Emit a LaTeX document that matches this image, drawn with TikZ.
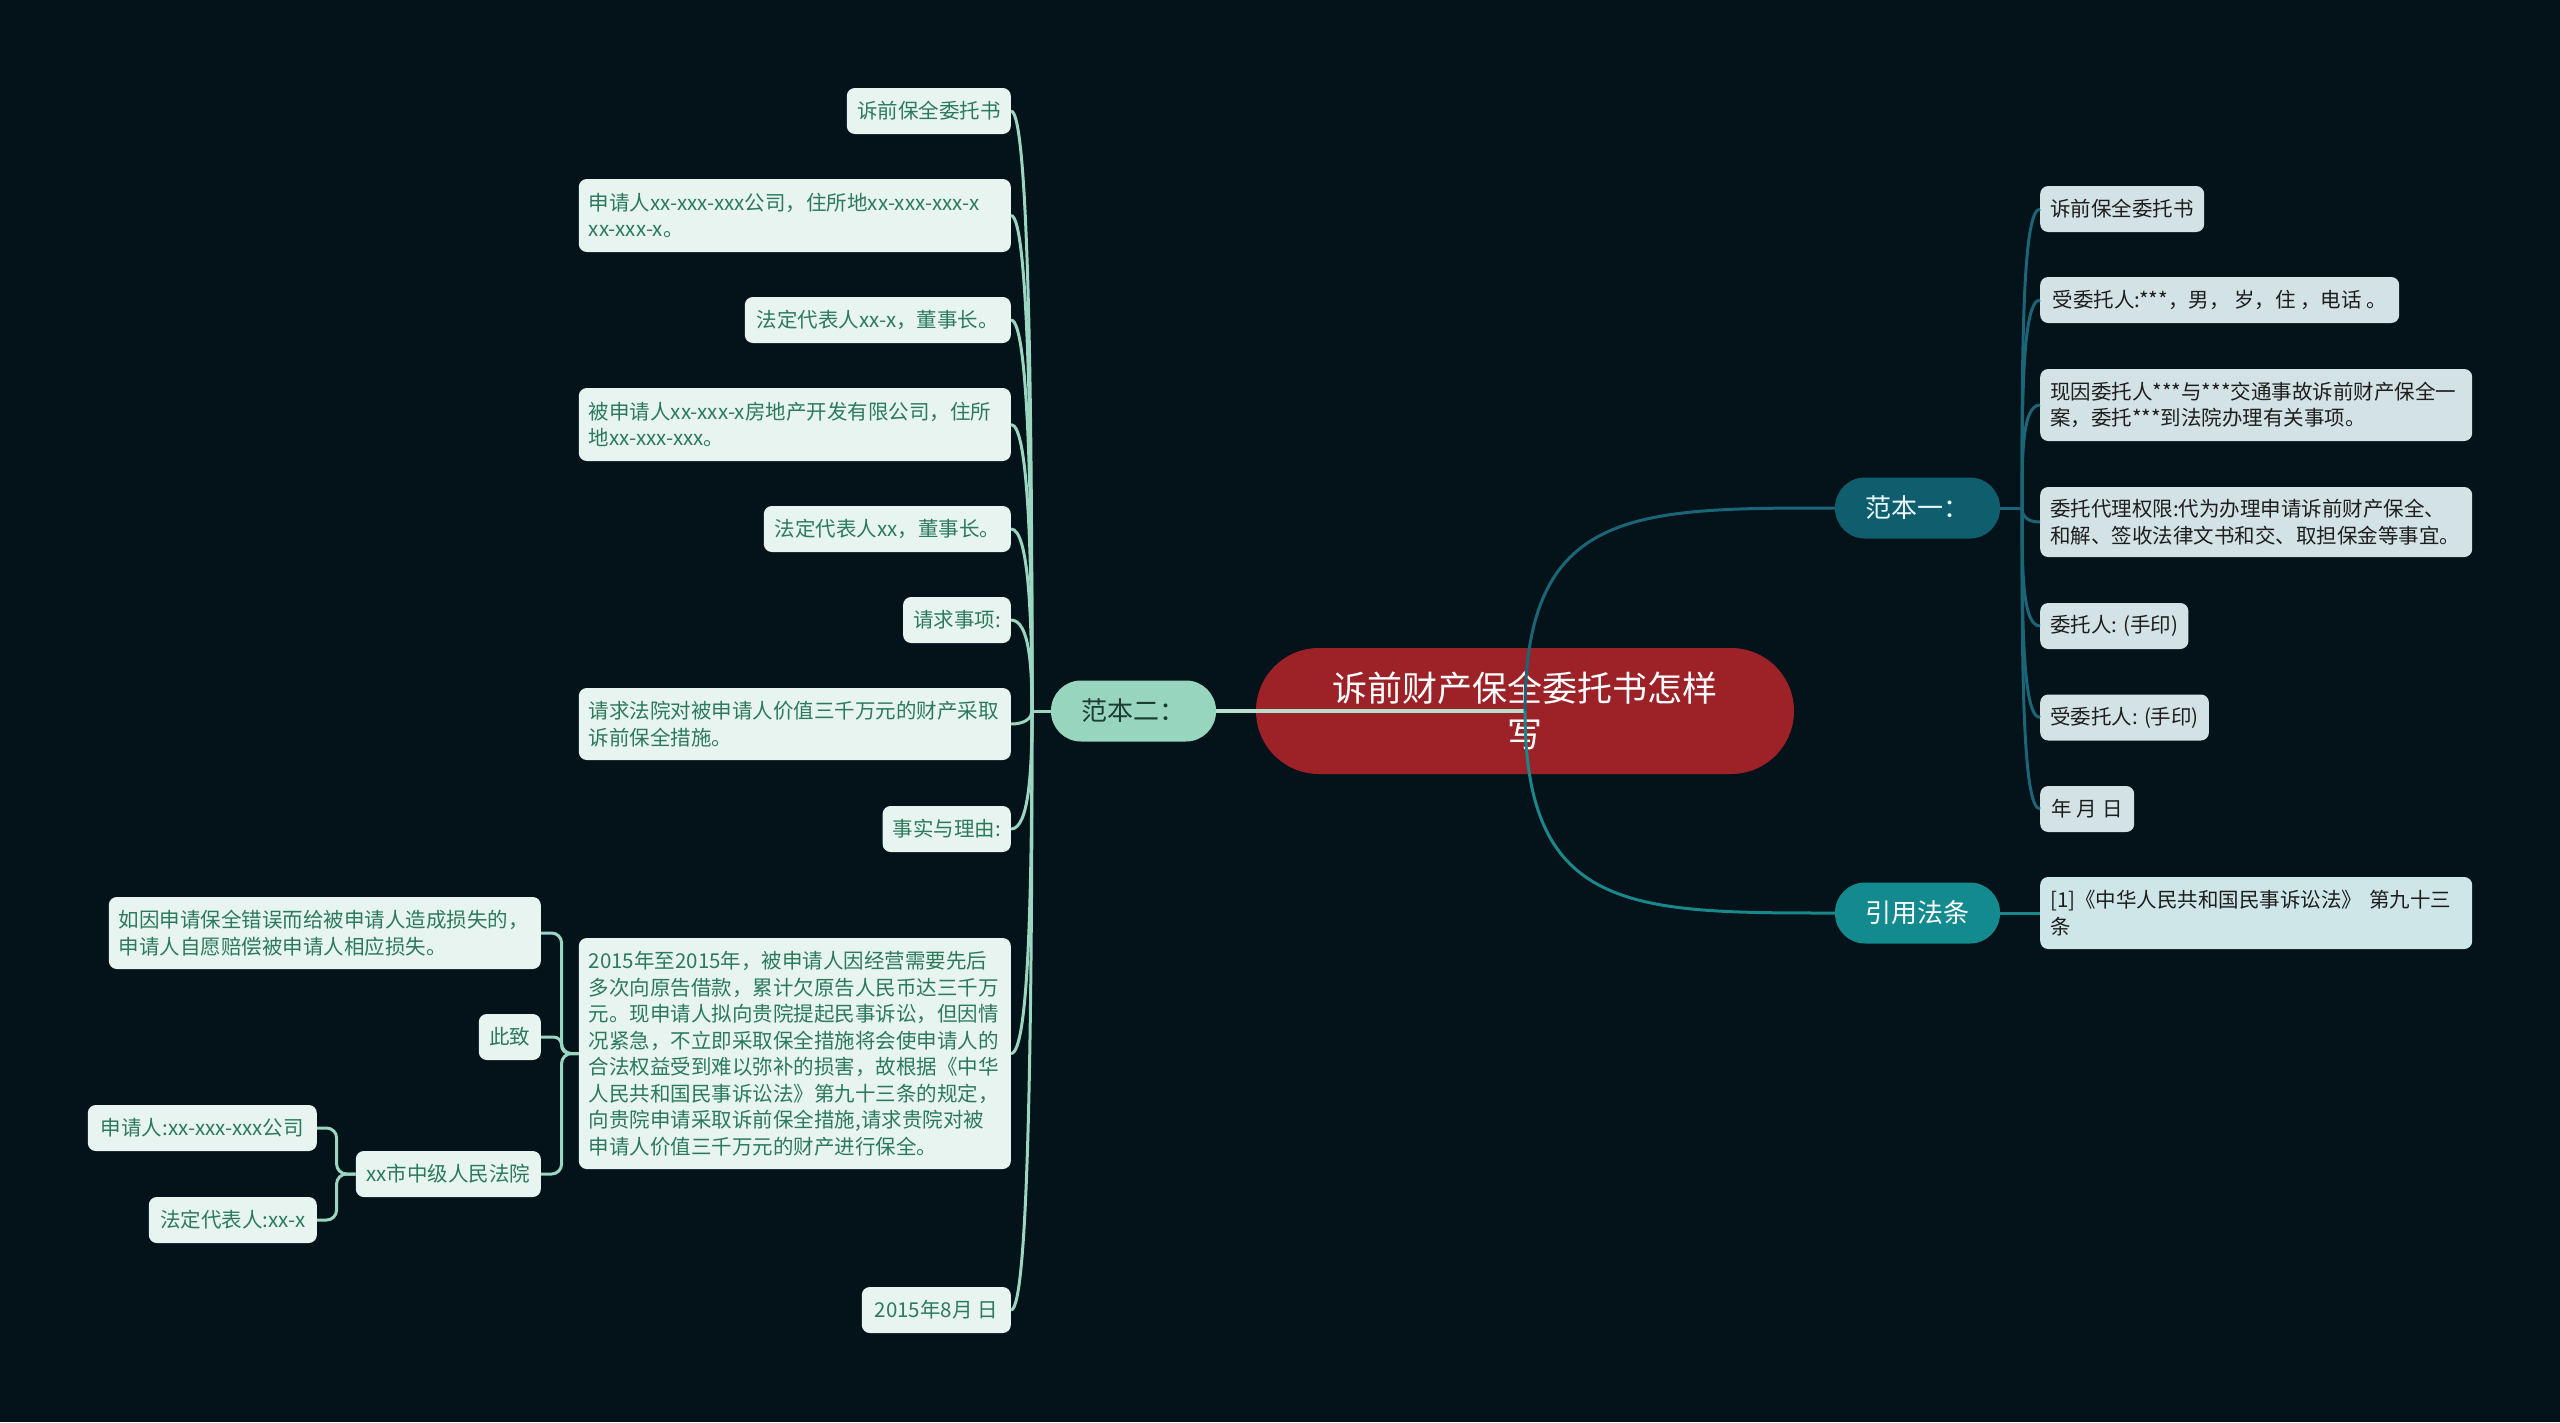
\documentclass[tikz,border=0pt]{standalone}
\usepackage{fontspec}
\setmainfont{Noto Sans CJK SC}
\definecolor{bgc}{HTML}{04121A}
\definecolor{rootred}{HTML}{9C2228}
\definecolor{mint}{HTML}{98D5BE}
\definecolor{minttext}{HTML}{1B3D33}
\definecolor{lfill}{HTML}{E8F4EF}
\definecolor{ltext}{HTML}{2C7A5E}
\definecolor{llinec}{HTML}{9AD6C0}
\definecolor{rfill}{HTML}{D3E2E5}
\definecolor{rfillb}{HTML}{CFE6E8}
\definecolor{rtext}{HTML}{1E1E1E}
\definecolor{fonefill}{HTML}{0F5E6E}
\definecolor{fonelinec}{HTML}{1A6676}
\definecolor{fthreefill}{HTML}{138A8D}
\definecolor{fthreelinec}{HTML}{18888B}
\definecolor{ftwolinec}{HTML}{B8DCCD}
\begin{document}
\begin{tikzpicture}[x=1pt,y=1pt,
  box/.style={rounded corners=8pt, inner xsep=10pt, inner ysep=0pt, minimum height=46pt,
    font=\fontsize{20.5}{26.5}\selectfont, align=left},
  lbox/.style={box, fill=lfill, text=ltext},
  rbox/.style={box, fill=rfill, text=rtext},
  wide/.style={text width=412pt, minimum width=432pt},
  branch/.style={rounded corners=30pt, minimum width=165pt, minimum height=61pt, inner sep=0pt,
    font=\fontsize{26}{30}\selectfont},
  lline/.style={draw=llinec, line width=3pt},
  rline/.style={draw=fonelinec, line width=3pt},
]
\useasboundingbox (0,0) rectangle (2560,-1422);
\fill[bgc] (0,0) rectangle (2560,-1422);

% root
\node[fill=rootred, text=white, rounded corners=63pt, minimum width=538pt, minimum height=126pt,
  inner sep=0pt, align=center, font=\fontsize{35}{46}\selectfont] (root) at (1525,-711)
  {诉前财产保全委托书怎样\\写};

% main branches
\node[branch, fill=mint, text=minttext] (F2) at (1133.5,-711) {范本二：};
\node[branch, fill=fonefill, text=white!92!cyan] (F1) at (1917.5,-508) {范本一：};
\node[branch, fill=fthreefill, text=white] (F3) at (1917.5,-913) {引用法条};

% left column
\node[lbox, minimum width=164pt, anchor=east] (L1) at (1011,-111) {诉前保全委托书};
\node[lbox, wide, minimum height=73pt, anchor=east] (L2) at (1011,-215.5)
  {申请人xx-xxx-xxx公司，住所地xx-xxx-xxx-x\\xx-xxx-x。};
\node[lbox, minimum width=266pt, anchor=east] (L3) at (1011,-320) {法定代表人xx-x，董事长。};
\node[lbox, wide, minimum height=73pt, anchor=east] (L4) at (1011,-424.5)
  {被申请人xx-xxx-x房地产开发有限公司，住所\\地xx-xxx-xxx。};
\node[lbox, minimum width=247pt, anchor=east] (L5) at (1011,-529) {法定代表人xx，董事长。};
\node[lbox, minimum width=107pt, anchor=east] (L6) at (1011,-620) {请求事项:};
\node[lbox, wide, minimum height=72pt, anchor=east] (L7) at (1011,-724)
  {请求法院对被申请人价值三千万元的财产采取\\诉前保全措施。};
\node[lbox, minimum width=128pt, anchor=east] (L8) at (1011,-829) {事实与理由:};
\node[lbox, wide, minimum height=231pt, anchor=east] (L9) at (1011,-1053.5)
  {2015年至2015年，被申请人因经营需要先后\\
   多次向原告借款，累计欠原告人民币达三千万\\
   元。现申请人拟向贵院提起民事诉讼，但因情\\
   况紧急，不立即采取保全措施将会使申请人的\\
   合法权益受到难以弥补的损害，故根据《中华\\
   人民共和国民事诉讼法》第九十三条的规定，\\
   向贵院申请采取诉前保全措施,请求贵院对被\\
   申请人价值三千万元的财产进行保全。};
\node[lbox, minimum width=149pt, anchor=east] (L10) at (1011,-1310) {2015年8月 日};

% sub-children of L9
\node[lbox, wide, minimum height=72pt, anchor=east] (A1) at (541,-933)
  {如因申请保全错误而给被申请人造成损失的，\\申请人自愿赔偿被申请人相应损失。};
\node[lbox, minimum width=62pt, anchor=east] (A2) at (541,-1037) {此致};
\node[lbox, minimum width=185pt, anchor=east] (A3) at (541,-1174) {xx市中级人民法院};
\node[lbox, minimum width=229pt, anchor=east] (B1) at (317,-1128) {申请人:xx-xxx-xxx公司};
\node[lbox, minimum width=168pt, anchor=east] (B2) at (317,-1220) {法定代表人:xx-x};

% right column
\node[rbox, minimum width=164pt, anchor=west] (R1) at (2040,-209) {诉前保全委托书};
\node[rbox, minimum width=359pt, anchor=west] (R2) at (2040,-300) {受委托人:***，男， 岁，住 ，电话 。};
\node[rbox, wide, minimum height=72pt, anchor=west] (R3) at (2040,-405)
  {现因委托人***与***交通事故诉前财产保全一\\案，委托***到法院办理有关事项。};
\node[rbox, wide, minimum height=70pt, anchor=west] (R4) at (2040,-522)
  {委托代理权限:代为办理申请诉前财产保全、\\和解、签收法律文书和交、取担保金等事宜。};
\node[rbox, minimum width=147pt, anchor=west] (R5) at (2040,-626) {委托人: (手印)};
\node[rbox, minimum width=168pt, anchor=west] (R6) at (2040,-717.5) {受委托人: (手印)};
\node[rbox, minimum width=94pt, anchor=west] (R7) at (2040,-809) {年 月 日};
\node[rbox, wide, fill=rfillb, minimum height=72pt, anchor=west] (R8) at (2040,-913)
  {[1]《中华人民共和国民事诉讼法》 第九十三\\条};

% junctions
\coordinate (J2) at (1032,-711);
\coordinate (J1) at (2022,-508);

% root connectors
\draw[draw=ftwolinec, line width=4pt] (root.center) -- (F2.east);
\draw[draw=fonelinec, line width=3pt] (root.center) .. controls +(0,203) and +(-202,0) .. (F1.west);
\draw[draw=fthreelinec, line width=3pt] (root.center) .. controls +(0,-202) and +(-202,0) .. (F3.west);

% left connectors
\draw[lline] (F2.west) -- (J2);
\draw[lline] (J2) .. controls +(0,300) and +(18,0) .. (L1.east);
\draw[lline] (J2) .. controls +(0,248) and +(18,0) .. (L2.east);
\draw[lline] (J2) .. controls +(0,196) and +(18,0) .. (L3.east);
\draw[lline] (J2) .. controls +(0,143) and +(18,0) .. (L4.east);
\draw[lline] (J2) .. controls +(0,91) and +(18,0) .. (L5.east);
\draw[lline] (J2) .. controls +(0,46) and +(18,0) .. (L6.east);
\draw[lline] (J2) .. controls +(0,-7) and +(14,0) .. (L7.east);
\draw[lline] (J2) .. controls +(0,-59) and +(18,0) .. (L8.east);
\draw[lline] (J2) .. controls +(0,-171) and +(18,0) .. (L9.east);
\draw[lline] (J2) .. controls +(0,-300) and +(18,0) .. (L10.east);

\draw[lline, rounded corners=10pt] (L9.west) -- ++(-17,0) |- (A1.east);
\draw[lline, rounded corners=8pt] (L9.west) -- ++(-17,0) |- (A2.east);
\draw[lline, rounded corners=10pt] (L9.west) -- ++(-17,0) |- (A3.east);
\draw[lline, rounded corners=10pt] (A3.west) -- ++(-19,0) |- (B1.east);
\draw[lline, rounded corners=10pt] (A3.west) -- ++(-19,0) |- (B2.east);

% right connectors
\draw[rline] (F1.east) -- (J1);
\draw[rline] (J1) .. controls +(0,150) and +(-18,0) .. (R1.west);
\draw[rline] (J1) .. controls +(0,104) and +(-18,0) .. (R2.west);
\draw[rline] (J1) .. controls +(0,52) and +(-18,0) .. (R3.west);
\draw[rline] (J1) .. controls +(0,-7) and +(-14,0) .. (R4.west);
\draw[rline] (J1) .. controls +(0,-59) and +(-18,0) .. (R5.west);
\draw[rline] (J1) .. controls +(0,-105) and +(-18,0) .. (R6.west);
\draw[rline] (J1) .. controls +(0,-150) and +(-18,0) .. (R7.west);
\draw[draw=fthreelinec, line width=3pt] (F3.east) -- (R8.west);
\end{tikzpicture}
\end{document}
